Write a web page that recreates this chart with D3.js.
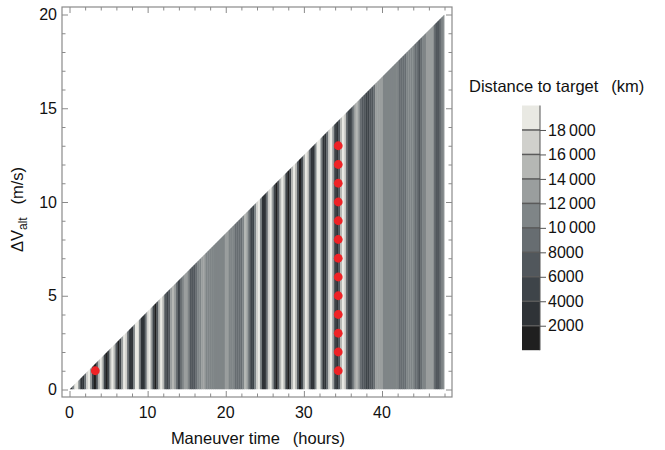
<!DOCTYPE html>
<html>
<head>
<meta charset="utf-8">
<script src="https://cdn.jsdelivr.net/npm/d3@7"></script>
<style>
  html, body { margin: 0; padding: 0; background: #fff; }
  svg { display: block; font-family: "Liberation Sans", Arial, Helvetica, sans-serif; }
</style>
</head>
<body>
<svg id="chart" width="665" height="450"></svg>
<script>
// Distance to target (km) sampled every 0.25 h of maneuver time, 0 … 48 h
const sampleStep = 0.25;
const distanceKm = [
  2400, 3300, 10900, 18200, 18200, 10900, 3300, 2400, 9200, 17200, 18900, 12700, 4400, 1900, 7400, 15900,
  19300, 14400, 5800, 1700, 5800, 14400, 19300, 15900, 7400, 1900, 4400, 12700, 18900, 17200, 9200,
  2400, 3300, 10900, 18200, 18200, 10900, 3300, 2400, 9200, 17200, 18900, 12700, 4400, 1900,
  7700, 15400, 18500, 14000,
  7100, 4000, 7100, 13400,
  15500, 13600, 8800, 5600,
  8100, 11400, 13800, 13200, 10000, 7300, 7600, 7000,
  9500, 10500, 11500, 12500, 12800, 11500, 11000, 10800, 11000, 11200, 10800, 10600,
  11000, 11400, 11600, 12300, 12600, 11500, 10800, 10500, 9600, 8800, 8400, 9300,
  11500, 14300, 13500, 9900,
  4500, 5200, 10800, 16200,
  18200, 10900, 3300, 2400, 9200, 17200, 18900, 12700, 4400, 1900, 7400, 15900, 19300, 14400,
  5800, 1700, 5800, 14400, 19300, 15900, 7400, 1900, 4400, 12700, 18900, 17200, 9200,
  2400, 3300, 10900, 18200, 18200, 10900, 3300, 2400, 9200, 17200, 18900, 12700, 4400,
  2700, 7700, 15400, 18500, 16000, 9000, 4500, 5000,
  9000, 13500, 14500, 12500,
  8500, 7500, 6500, 5800, 5600, 6000, 7200, 9800,
  12500, 13200, 12800, 12300, 11500, 10800, 10500, 10800, 11000, 11200, 11000, 10500, 9600, 9400,
  9300, 9500, 10400, 10800, 11000, 10600,
  9200, 8000, 7600, 9000, 10500, 11000, 12000, 12800,
  13200, 12000, 9000, 6500, 6000, 8500, 10800, 11500
];

// Marked trajectories: maneuver time (h) and ΔV_alt (m/s)
const markTimes = [3.3, 34.4, 34.4, 34.4, 34.4, 34.4, 34.4, 34.4, 34.4, 34.4, 34.4, 34.4, 34.4, 34.4];
const markDv    = [1, 1, 2, 3, 4, 5, 6, 7, 8, 9, 10, 11, 12, 13];

// Contour levels and fill colours
const levels = [2000, 4000, 6000, 8000, 10000, 12000, 14000, 16000, 18000];
const levelColors = ["#1f1f1f", "#2f3337", "#3e4449", "#51575c", "#676d71",
                     "#7f8587", "#9a9e9e", "#b5b7b4", "#d0d0cc", "#e9e9e3"];
const legendTicks = [2000, 4000, 6000, 8000, 10000, 12000, 14000, 16000, 18000];
const legendTickText = ["2000", "4000", "6000", "8000", "10\u2009000", "12\u2009000",
                        "14\u2009000", "16\u2009000", "18\u2009000"];

const xTicks = [0, 10, 20, 30, 40];
const yTicks = [0, 5, 10, 15, 20];
const tMax = 48, dvMax = 20;

const svg = d3.select("#chart");
const frame = { left: 62, right: 452, top: 7, bottom: 397 };

const x = d3.scaleLinear().domain([-0.96, 48.96]).range([frame.left, frame.right]);
const y = d3.scaleLinear().domain([-0.4, 20.4]).range([frame.bottom, frame.top]);
const fill = d3.scaleThreshold().domain(levels).range(levelColors);

// Reachable region: ΔV up to the line from (0,0) to (48,20)
svg.append("clipPath").attr("id", "region")
  .append("path")
  .attr("d", d3.line()([[x(0), y(0)], [x(tMax), y(dvMax)], [x(tMax), y(0)]]) + "Z");

const samples = distanceKm.map((d, i) => ({ t: i * sampleStep, d }));

svg.append("g").attr("clip-path", "url(#region)")
  .selectAll("rect").data(samples).join("rect")
  .attr("x", s => x(Math.max(0, s.t - sampleStep / 2)))
  .attr("width", s => x(Math.min(tMax, s.t + sampleStep / 2)) - x(Math.max(0, s.t - sampleStep / 2)) + 0.3)
  .attr("y", y(dvMax))
  .attr("height", y(0) - y(dvMax))
  .attr("fill", s => fill(s.d));

// Frame with inward ticks on all four sides
const frameColor = "#8a8a8a";
svg.append("rect")
  .attr("x", frame.left).attr("y", frame.top)
  .attr("width", frame.right - frame.left).attr("height", frame.bottom - frame.top)
  .attr("fill", "none").attr("stroke", frameColor).attr("stroke-width", 1.2);

const xMinor = d3.range(0, 49, 2).filter(v => v % 10 !== 0);
const yMinor = d3.range(0, 21, 1).filter(v => v % 5 !== 0);

const addTicks = (axis, outer, tickSize) => {
  const g = svg.append("g")
    .attr("transform", outer)
    .call(axis.tickSize(tickSize).tickFormat(""));
  g.select(".domain").remove();
  g.selectAll("line").attr("stroke", frameColor).attr("stroke-width", 1);
  return g;
};

// bottom / top
addTicks(d3.axisTop(x).tickValues(xTicks), `translate(0,${frame.bottom})`, 6);
addTicks(d3.axisTop(x).tickValues(xMinor), `translate(0,${frame.bottom})`, 3.5);
addTicks(d3.axisBottom(x).tickValues(xTicks), `translate(0,${frame.top})`, 6);
addTicks(d3.axisBottom(x).tickValues(xMinor), `translate(0,${frame.top})`, 3.5);
// left / right
addTicks(d3.axisRight(y).tickValues(yTicks), `translate(${frame.left},0)`, 6);
addTicks(d3.axisRight(y).tickValues(yMinor), `translate(${frame.left},0)`, 3.5);
addTicks(d3.axisLeft(y).tickValues(yTicks), `translate(${frame.right},0)`, 6);
addTicks(d3.axisLeft(y).tickValues(yMinor), `translate(${frame.right},0)`, 3.5);

// tick labels
svg.append("g").selectAll("text").data(xTicks).join("text")
  .attr("x", d => x(d)).attr("y", 418)
  .attr("text-anchor", "middle").attr("font-size", 16).attr("fill", "#111")
  .text(d => d);
svg.append("g").selectAll("text").data(yTicks).join("text")
  .attr("x", 57).attr("y", d => y(d) + 5.6)
  .attr("text-anchor", "end").attr("font-size", 16).attr("fill", "#111")
  .text(d => d);

// axis titles
svg.append("text")
  .attr("x", 258).attr("y", 444)
  .attr("text-anchor", "middle").attr("font-size", 16.5).attr("fill", "#111")
  .text("Maneuver time\u2002 (hours)");

const yTitle = svg.append("text")
  .attr("transform", `translate(23,${y(9.6)}) rotate(-90)`)
  .attr("text-anchor", "middle").attr("font-size", 16.5).attr("fill", "#111");
yTitle.append("tspan").text("\u0394V");
yTitle.append("tspan").attr("font-size", 12).attr("dy", 3.5).text("alt");
yTitle.append("tspan").attr("dy", -3.5).text("\u2002 (m/s)");

// marked trajectories
svg.append("g").selectAll("circle").data(markTimes.map((t, i) => [t, markDv[i]])).join("circle")
  .attr("cx", d => x(d[0])).attr("cy", d => y(d[1]))
  .attr("r", 4.4).attr("fill", "#ee2226");

// colour legend
const lg = { x: 522, w: 18, top: 105.5, bottom: 350.2 };
const ly = d3.scaleLinear().domain([0, 20000]).range([lg.bottom, lg.top]);
const bins = d3.range(levelColors.length).map(i => [i * 2000, (i + 1) * 2000]);

svg.append("text")
  .attr("x", 469).attr("y", 92)
  .attr("font-size", 16.5).attr("fill", "#111")
  .text("Distance to target\u2002 (km)");

svg.append("g").selectAll("rect").data(bins).join("rect")
  .attr("x", lg.x).attr("width", lg.w)
  .attr("y", d => ly(d[1])).attr("height", d => ly(d[0]) - ly(d[1]))
  .attr("fill", (d, i) => levelColors[i]);

svg.append("g").selectAll("line").data(legendTicks).join("line")
  .attr("x1", lg.x).attr("x2", lg.x + lg.w)
  .attr("y1", d => ly(d)).attr("y2", d => ly(d))
  .attr("stroke", "#5a5a5a").attr("stroke-width", 1.5);

svg.append("line")
  .attr("x1", lg.x + lg.w).attr("x2", lg.x + lg.w)
  .attr("y1", lg.top).attr("y2", lg.bottom)
  .attr("stroke", "#555").attr("stroke-width", 1);

const lAxis = svg.append("g")
  .attr("transform", `translate(${lg.x + lg.w},0)`)
  .call(d3.axisRight(ly).tickValues(legendTicks).tickSize(6).tickFormat((d, i) => legendTickText[i]));
lAxis.select(".domain").remove();
lAxis.selectAll("line").attr("stroke", "#555");
lAxis.selectAll("text").attr("font-size", 16).attr("fill", "#111").attr("x", 8)
  .attr("font-family", "Liberation Sans, Arial, sans-serif");
</script>
</body>
</html>
